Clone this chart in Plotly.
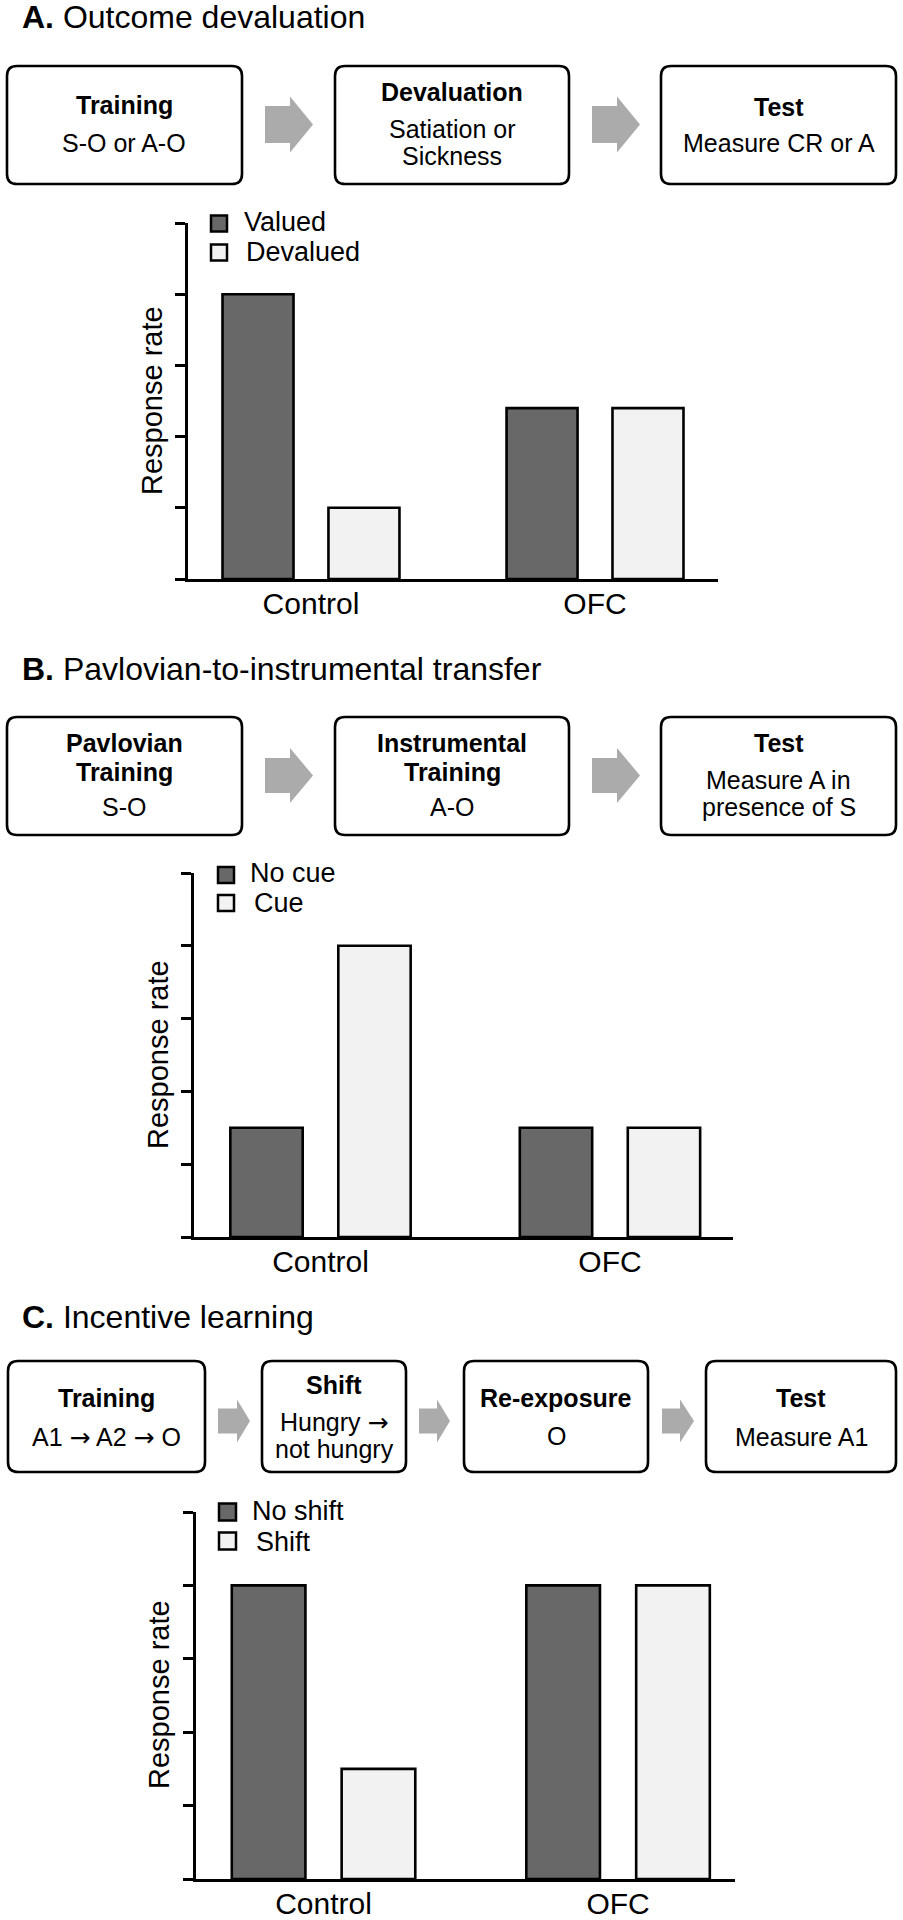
import plotly.graph_objects as go

W, H = 903, 1920
FONT = "Liberation Sans, Arial, Helvetica, sans-serif"
DARK = "#686868"
LIGHT = "#f2f2f2"
ARROW = "#ababab"
RARR = "<span style='font-family:DejaVu Sans'>\u2192</span>"

# ---------------- data ----------------
categories = ["Control", "OFC"]

a_names = ["Valued", "Devalued"]
a_valued = [4.0, 2.4]
a_devalued = [1.0, 2.4]

b_names = ["No cue", "Cue"]
b_nocue = [1.5, 1.5]
b_cue = [4.0, 1.5]

c_names = ["No shift", "Shift"]
c_noshift = [4.0, 4.0]
c_shift = [1.5, 4.0]

y_ticks = [0, 1, 2, 3, 4, 5]
y_title = "Response rate"

panel_titles = [
    ("A.", "Outcome devaluation"),
    ("B.", "Pavlovian-to-instrumental transfer"),
    ("C.", "Incentive learning"),
]

# box contents: list of (text, bold)
a_boxes = [
    [("Training", True), ("S-O or A-O", False)],
    [("Devaluation", True), ("Satiation or", False), ("Sickness", False)],
    [("Test", True), ("Measure CR or A", False)],
]
b_boxes = [
    [("Pavlovian", True), ("Training", True), ("S-O", False)],
    [("Instrumental", True), ("Training", True), ("A-O", False)],
    [("Test", True), ("Measure A in", False), ("presence of S", False)],
]
c_boxes = [
    [("Training", True), (f"A1 {RARR} A2 {RARR} O", False)],
    [("Shift", True), (f"Hungry {RARR}", False), ("not hungry", False)],
    [("Re-exposure", True), ("O", False)],
    [("Test", True), ("Measure A1", False)],
]

# ---------------- layout geometry (pixels) ----------------
def fx(p):
    return p / W

def fy(p):
    return 1 - p / H

title_y = [17, 669, 1317]

a_box_x = [(7, 242), (335, 569), (661, 896)]
a_box_y = (66, 184)
a_text_y = [[105, 143], [92, 129, 156], [107, 143]]
a_arrows = [(265, 290, 313), (592, 617, 640)]
a_arrow_geo = (124.5, 18.5, 28)

b_box_x = a_box_x
b_box_y = (717, 835)
b_text_y = [[743, 772, 807], [743, 772, 807], [743, 780, 807]]
b_arrows = a_arrows
b_arrow_geo = (775.5, 17.5, 27.5)

c_box_x = [(8, 205), (262, 406), (464, 648), (706, 896)]
c_box_y = (1361, 1472)
c_text_y = [[1398, 1437], [1385, 1422, 1449], [1398, 1436], [1398, 1437]]
c_arrows = [(218, 237, 250), (419, 437, 450), (662, 680, 694)]
c_arrow_geo = (1421, 12.5, 21.5)

# chart geometry: x domain px, y domain px (top,bottom), x range
charts = [
    dict(xd=(188, 718), yd=(223, 579), xr=(-0.433, 1.433),
         names=a_names, vals=(a_valued, a_devalued),
         leg_sq=(211, [223.5, 252.5], 16), leg_tx=[(242, 222), (244, 252)],
         yt=(152, 401)),
    dict(xd=(194, 733), yd=(873, 1237), xr=(-0.437, 1.425),
         names=b_names, vals=(b_nocue, b_cue),
         leg_sq=(218, [875, 903], 16), leg_tx=[(248, 873), (252, 903)],
         yt=(158, 1055)),
    dict(xd=(196, 735), yd=(1512, 1879), xr=(-0.433, 1.397),
         names=c_names, vals=(c_noshift, c_shift),
         leg_sq=(219, [1512, 1541], 17), leg_tx=[(250, 1511), (254, 1542)],
         yt=(159, 1695)),
]

fig = go.Figure()
shapes = []
annotations = []

BAR_W = 0.25
GAP = 0.123
offsets = [-(BAR_W + GAP / 2), GAP / 2]
colors = [DARK, LIGHT]

for i, ch in enumerate(charts):
    xa = "x" if i == 0 else f"x{i+1}"
    ya = "y" if i == 0 else f"y{i+1}"
    for k in range(2):
        fig.add_trace(go.Bar(
            x=categories, y=ch["vals"][k], name=ch["names"][k],
            xaxis=xa, yaxis=ya, offset=offsets[k], width=BAR_W,
            marker=dict(color=colors[k], line=dict(color="black", width=2.6)),
            showlegend=False, hoverinfo="x+y+name",
        ))
    xkey = "xaxis" if i == 0 else f"xaxis{i+1}"
    ykey = "yaxis" if i == 0 else f"yaxis{i+1}"
    fig.update_layout({
        xkey: dict(domain=[fx(ch["xd"][0]), fx(ch["xd"][1])], anchor=ya,
                   range=list(ch["xr"]), showline=True, linecolor="black",
                   linewidth=3, ticks="", showgrid=False, zeroline=False,
                   ticklabelstandoff=-4,
                   tickfont=dict(family=FONT, size=30, color="black"),
                   fixedrange=True),
        ykey: dict(domain=[fy(ch["yd"][1]), fy(ch["yd"][0])], anchor=xa,
                   range=[0, 5], tickvals=y_ticks, showticklabels=False,
                   ticks="outside", ticklen=10, tickwidth=3, tickcolor="black",
                   showline=True, linecolor="black", linewidth=3,
                   showgrid=False, zeroline=False, fixedrange=True),
    })
    # y title
    annotations.append(dict(
        x=fx(ch["yt"][0]), y=fy(ch["yt"][1]), xref="paper", yref="paper",
        text=y_title, textangle=-90, showarrow=False,
        xanchor="center", yanchor="middle",
        font=dict(family=FONT, size=29, color="black")))
    # legend
    sx, sys_, ss = ch["leg_sq"]
    for k in range(2):
        cy = sys_[k]
        shapes.append(dict(type="rect", xref="paper", yref="paper",
                           x0=fx(sx), x1=fx(sx + ss), y0=fy(cy + ss / 2), y1=fy(cy - ss / 2),
                           fillcolor=colors[k], line=dict(color="black", width=2.5)))
        tx, ty = ch["leg_tx"][k]
        annotations.append(dict(
            x=fx(tx), y=fy(ty), xref="paper", yref="paper",
            text=ch["names"][k], showarrow=False, xanchor="left", yanchor="middle",
            font=dict(family=FONT, size=27, color="black")))


def rrect(x0, y0, x1, y1, r=10):
    def P(x, y):
        return f"{fx(x):.5f},{fy(y):.5f}"
    d = (f"M{P(x0 + r, y0)} L{P(x1 - r, y0)} Q{P(x1, y0)} {P(x1, y0 + r)} "
         f"L{P(x1, y1 - r)} Q{P(x1, y1)} {P(x1 - r, y1)} "
         f"L{P(x0 + r, y1)} Q{P(x0, y1)} {P(x0, y1 - r)} "
         f"L{P(x0, y0 + r)} Q{P(x0, y0)} {P(x0 + r, y0)} Z")
    return d


def block_arrow(xs, xb, xt, cy, hb, hh):
    def P(x, y):
        return f"{fx(x):.5f},{fy(y):.5f}"
    return (f"M{P(xs, cy - hb)} L{P(xb, cy - hb)} L{P(xb, cy - hh)} L{P(xt, cy)} "
            f"L{P(xb, cy + hh)} L{P(xb, cy + hb)} L{P(xs, cy + hb)} Z")


def add_flow(boxes, box_x, box_y, text_y, arrows, arrow_geo):
    for bi, lines in enumerate(boxes):
        x0, x1 = box_x[bi]
        shapes.append(dict(type="path", xref="paper", yref="paper",
                           path=rrect(x0, box_y[0], x1, box_y[1]),
                           fillcolor="white", line=dict(color="black", width=2.6)))
        for li, (txt, bold) in enumerate(lines):
            annotations.append(dict(
                x=fx((x0 + x1) / 2), y=fy(text_y[bi][li]), xref="paper", yref="paper",
                text=f"<b>{txt}</b>" if bold else txt, showarrow=False,
                xanchor="center", yanchor="middle",
                font=dict(family=FONT, size=25, color="black")))
    cy, hb, hh = arrow_geo
    for xs, xb, xt in arrows:
        shapes.append(dict(type="path", xref="paper", yref="paper",
                           path=block_arrow(xs, xb, xt, cy, hb, hh),
                           fillcolor=ARROW, line=dict(width=0)))


add_flow(a_boxes, a_box_x, a_box_y, a_text_y, a_arrows, a_arrow_geo)
add_flow(b_boxes, b_box_x, b_box_y, b_text_y, b_arrows, b_arrow_geo)
add_flow(c_boxes, c_box_x, c_box_y, c_text_y, c_arrows, c_arrow_geo)

for (lab, rest), ty in zip(panel_titles, title_y):
    annotations.append(dict(
        x=fx(20), y=fy(ty), xref="paper", yref="paper",
        text=f"<b>{lab}</b> {rest}", showarrow=False,
        xanchor="left", yanchor="middle",
        font=dict(family=FONT, size=32, color="black")))

fig.update_layout(
    width=W, height=H, margin=dict(l=0, r=0, t=0, b=0),
    paper_bgcolor="white", plot_bgcolor="white",
    barmode="overlay", showlegend=False,
    shapes=shapes, annotations=annotations,
    font=dict(family=FONT, color="black"),
)

fig.write_html("out.html", config={"displayModeBar": False},
               post_script="document.body.style.margin='0';")
